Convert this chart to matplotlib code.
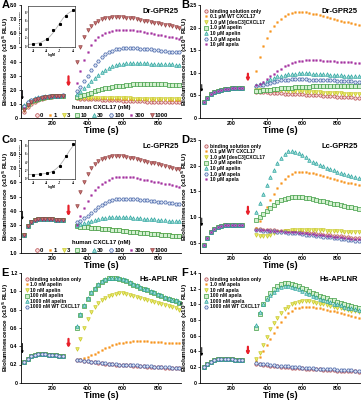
import matplotlib
matplotlib.use('Agg')
import matplotlib.pyplot as plt

plt.rcParams['font.family'] = ['Liberation Sans', 'DejaVu Sans']
plt.rcParams['font.weight'] = 'bold'
plt.rcParams['axes.labelweight'] = 'bold'

# time points (s): before and after the ligand addition
t_pre = [40, 60, 80, 100, 120, 140, 160, 180, 200, 220, 240, 260]
t_post = [340, 360, 380, 400, 420, 440, 460, 480, 500, 520, 540, 560, 580, 600, 620,
          640, 660, 680, 700, 720, 740, 760, 780, 800, 820, 840, 860, 880, 900, 920]

# ---------------- A : Dr-GPR25, human CXCL17 (nM)
a_labels = ['0', '1', '3', '10', '30', '100', '300', '1000']
a_pre_0 = [0.45, 0.75, 1.0, 1.15, 1.27, 1.36, 1.42, 1.47, 1.51, 1.54, 1.56, 1.57]
a_pre_1 = [0.55, 0.85, 1.07, 1.2, 1.3, 1.38, 1.44, 1.48, 1.52, 1.55, 1.57, 1.58]
a_pre_3 = [0.6, 0.9, 1.1, 1.23, 1.33, 1.4, 1.45, 1.49, 1.52, 1.55, 1.57, 1.58]
a_pre_10 = [0.75, 1.0, 1.18, 1.3, 1.38, 1.44, 1.48, 1.51, 1.54, 1.56, 1.58, 1.59]
a_pre_30 = [0.95, 1.15, 1.3, 1.4, 1.46, 1.5, 1.53, 1.55, 1.57, 1.58, 1.59, 1.6]
a_pre_100 = [0.85, 1.1, 1.27, 1.38, 1.45, 1.49, 1.52, 1.55, 1.57, 1.58, 1.59, 1.6]
a_pre_300 = [0.7, 0.95, 1.15, 1.28, 1.37, 1.43, 1.48, 1.51, 1.54, 1.56, 1.58, 1.59]
a_pre_1000 = [0.6, 0.9, 1.1, 1.24, 1.34, 1.41, 1.46, 1.5, 1.53, 1.56, 1.58, 1.59]
a_post_0 = [1.4, 1.38, 1.37, 1.35, 1.34, 1.32, 1.31, 1.3, 1.28, 1.27, 1.26, 1.25, 1.24, 1.23, 1.22,
            1.21, 1.2, 1.19, 1.18, 1.17, 1.16, 1.16, 1.15, 1.14, 1.13, 1.13, 1.12, 1.11, 1.11, 1.1]
a_post_1 = [1.45, 1.44, 1.43, 1.42, 1.42, 1.41, 1.4, 1.4, 1.39, 1.38, 1.38, 1.37, 1.37, 1.36, 1.36,
            1.35, 1.35, 1.34, 1.34, 1.33, 1.33, 1.32, 1.32, 1.32, 1.31, 1.31, 1.3, 1.3, 1.3, 1.29]
a_post_3 = [1.45, 1.45, 1.45, 1.44, 1.44, 1.43, 1.43, 1.42, 1.42, 1.41, 1.41, 1.4, 1.4, 1.4, 1.39,
            1.39, 1.38, 1.38, 1.38, 1.37, 1.37, 1.37, 1.36, 1.36, 1.36, 1.35, 1.35, 1.35, 1.34, 1.34]
a_post_10 = [1.5, 1.55, 1.6, 1.7, 1.8, 1.9, 2.0, 2.05, 2.1, 2.15, 2.2, 2.25, 2.3, 2.3, 2.35,
             2.35, 2.4, 2.4, 2.4, 2.4, 2.4, 2.4, 2.4, 2.4, 2.4, 2.4, 2.35, 2.35, 2.35, 2.35]
a_post_30 = [1.7, 1.9, 2.1, 2.35, 2.6, 2.85, 3.05, 3.25, 3.4, 3.55, 3.65, 3.75, 3.8, 3.85, 3.9,
             3.9, 3.9, 3.9, 3.9, 3.9, 3.9, 3.85, 3.85, 3.85, 3.85, 3.8, 3.8, 3.8, 3.75, 3.75]
a_post_100 = [1.9, 2.2, 2.6, 3.0, 3.4, 3.75, 4.05, 4.3, 4.5, 4.65, 4.75, 4.85, 4.9, 4.95, 4.95,
              4.95, 4.95, 4.95, 4.9, 4.9, 4.85, 4.85, 4.8, 4.8, 4.75, 4.75, 4.7, 4.7, 4.65, 4.65]
a_post_300 = [2.5, 3.3, 4.1, 4.7, 5.2, 5.5, 5.75, 5.9, 6.0, 6.1, 6.15, 6.2, 6.2, 6.2, 6.2,
              6.2, 6.2, 6.15, 6.15, 6.1, 6.05, 6.0, 5.95, 5.9, 5.85, 5.8, 5.75, 5.7, 5.65, 5.6]
a_post_1000 = [4.0, 5.0, 5.7, 6.2, 6.5, 6.75, 6.9, 7.0, 7.05, 7.1, 7.15, 7.15, 7.15, 7.15, 7.1,
               7.1, 7.05, 7.0, 6.95, 6.9, 6.85, 6.8, 6.75, 6.7, 6.65, 6.6, 6.55, 6.5, 6.45, 6.4]
# inset: dose response (log M)
a_dose_x = [-9.0, -8.52, -8.0, -7.52, -7.0, -6.52, -6.0]
a_dose_y = [0.04, 0.06, 0.16, 0.37, 0.52, 0.72, 0.84]
a_fit_x = [-9.4, -9.0, -8.5, -8.0, -7.75, -7.5, -7.25, -7.0, -6.75, -6.5, -6.25, -6.0, -5.9]
a_fit_y = [0.04, 0.05, 0.08, 0.16, 0.23, 0.32, 0.43, 0.55, 0.66, 0.74, 0.8, 0.84, 0.85]

# ---------------- B : Dr-GPR25, other ligands
b_labels = ['binding solution only', '0.1 µM WT CXCL17', '1.0 µM [desC3]CXCL17', '1.0 µM apelin',
            '10 µM apelin', '1.0 µM apela', '10 µM apela']
b_pre = [0.35, 0.45, 0.52, 0.57, 0.6, 0.62, 0.64, 0.65, 0.66, 0.66, 0.67, 0.67]
b_post_buffer = [0.58, 0.58, 0.57, 0.57, 0.56, 0.56, 0.55, 0.55, 0.54, 0.54, 0.53, 0.53, 0.52, 0.52, 0.51,
                 0.51, 0.5, 0.5, 0.5, 0.49, 0.49, 0.48, 0.48, 0.47, 0.47, 0.47, 0.46, 0.46, 0.45, 0.45]
b_post_cxcl17 = [1.05, 1.35, 1.6, 1.78, 1.92, 2.03, 2.12, 2.2, 2.25, 2.29, 2.32, 2.34, 2.35, 2.35, 2.34,
                 2.33, 2.31, 2.29, 2.27, 2.25, 2.23, 2.21, 2.19, 2.17, 2.15, 2.13, 2.12, 2.1, 2.08, 2.06]
b_post_desc3 = [0.62, 0.62, 0.62, 0.62, 0.62, 0.62, 0.61, 0.61, 0.61, 0.6, 0.6, 0.6, 0.59, 0.59, 0.58,
                0.58, 0.57, 0.57, 0.57, 0.56, 0.56, 0.56, 0.55, 0.55, 0.55, 0.54, 0.54, 0.54, 0.53, 0.53]
b_post_apelin1 = [0.6, 0.6, 0.61, 0.62, 0.63, 0.64, 0.65, 0.66, 0.66, 0.67, 0.67, 0.68, 0.68, 0.69, 0.69,
                  0.69, 0.7, 0.7, 0.7, 0.7, 0.7, 0.7, 0.71, 0.71, 0.71, 0.71, 0.71, 0.71, 0.71, 0.71]
b_post_apelin10 = [0.72, 0.75, 0.78, 0.82, 0.86, 0.89, 0.92, 0.94, 0.96, 0.97, 0.98, 0.98, 0.99, 0.99, 0.99,
                   0.99, 0.98, 0.98, 0.98, 0.97, 0.97, 0.96, 0.96, 0.95, 0.95, 0.94, 0.94, 0.93, 0.93, 0.92]
b_post_apela1 = [0.7, 0.72, 0.74, 0.76, 0.78, 0.8, 0.82, 0.83, 0.84, 0.85, 0.86, 0.86, 0.86, 0.86, 0.86,
                 0.85, 0.85, 0.85, 0.84, 0.84, 0.84, 0.83, 0.83, 0.82, 0.82, 0.82, 0.81, 0.81, 0.8, 0.8]
b_post_apela10 = [0.72, 0.76, 0.8, 0.86, 0.92, 0.98, 1.04, 1.09, 1.14, 1.18, 1.21, 1.24, 1.26, 1.27, 1.28,
                  1.28, 1.28, 1.28, 1.28, 1.27, 1.27, 1.26, 1.26, 1.25, 1.25, 1.24, 1.24, 1.23, 1.22, 1.22]

# ---------------- C : Lc-GPR25, human CXCL17 (nM)
c_labels = a_labels
c_pre = [2.3, 2.9, 3.2, 3.35, 3.4, 3.42, 3.42, 3.4, 3.38, 3.37, 3.36, 3.35]
c_post_low = [2.9, 2.87, 2.85, 2.82, 2.8, 2.77, 2.75, 2.72, 2.7, 2.67, 2.65, 2.62, 2.6, 2.57, 2.55,
              2.52, 2.5, 2.47, 2.45, 2.42, 2.4, 2.37, 2.35, 2.32, 2.3, 2.27, 2.25, 2.22, 2.2, 2.18]
c_post_30 = [3.0, 3.05, 3.1, 3.18, 3.26, 3.33, 3.4, 3.45, 3.5, 3.53, 3.55, 3.56, 3.56, 3.55, 3.54,
             3.52, 3.5, 3.48, 3.46, 3.44, 3.42, 3.4, 3.38, 3.36, 3.34, 3.32, 3.3, 3.28, 3.26, 3.24]
c_post_100 = [3.2, 3.3, 3.45, 3.65, 3.85, 4.05, 4.25, 4.4, 4.55, 4.65, 4.75, 4.8, 4.83, 4.85, 4.85,
              4.85, 4.83, 4.8, 4.78, 4.75, 4.72, 4.7, 4.67, 4.64, 4.61, 4.58, 4.55, 4.52, 4.5, 4.47]
c_post_300 = [3.0, 3.6, 4.2, 4.7, 5.1, 5.45, 5.7, 5.9, 6.05, 6.2, 6.3, 6.35, 6.4, 6.4, 6.4,
              6.38, 6.35, 6.3, 6.25, 6.2, 6.15, 6.1, 6.05, 6.0, 5.95, 5.9, 5.85, 5.8, 5.75, 5.7]
c_post_1000 = [4.3, 5.3, 6.0, 6.6, 7.0, 7.3, 7.5, 7.65, 7.75, 7.82, 7.86, 7.87, 7.86, 7.84, 7.8,
               7.75, 7.7, 7.64, 7.58, 7.52, 7.46, 7.4, 7.34, 7.28, 7.22, 7.16, 7.1, 7.04, 6.98, 6.92]
c_dose_x = [-9.0, -8.52, -8.0, -7.52, -7.0, -6.52, -6.0]
c_dose_y = [0.09, 0.1, 0.12, 0.16, 0.31, 0.56, 0.85]
c_fit_x = [-9.4, -9.0, -8.5, -8.0, -7.75, -7.5, -7.25, -7.0, -6.75, -6.5, -6.25, -6.0, -5.9]
c_fit_y = [0.09, 0.09, 0.1, 0.12, 0.14, 0.18, 0.24, 0.32, 0.43, 0.56, 0.69, 0.8, 0.84]

# ---------------- D : Lc-GPR25, other ligands
d_labels = b_labels
d_pre = [0.45, 0.6, 0.7, 0.77, 0.81, 0.83, 0.84, 0.85, 0.85, 0.84, 0.84, 0.84]
d_post_buffer = [0.76, 0.76, 0.75, 0.75, 0.74, 0.74, 0.73, 0.73, 0.72, 0.72, 0.71, 0.71, 0.7, 0.7, 0.69,
                 0.69, 0.68, 0.67, 0.67, 0.66, 0.65, 0.65, 0.64, 0.63, 0.63, 0.62, 0.61, 0.6, 0.6, 0.59]
d_post_cxcl17 = [0.78, 0.92, 1.06, 1.2, 1.33, 1.45, 1.56, 1.66, 1.74, 1.8, 1.84, 1.87, 1.88, 1.88, 1.87,
                 1.86, 1.85, 1.83, 1.81, 1.79, 1.77, 1.76, 1.74, 1.72, 1.7, 1.69, 1.67, 1.66, 1.64, 1.62]
d_post_desc3 = [0.66, 0.64, 0.63, 0.64, 0.66, 0.68, 0.7, 0.71, 0.72, 0.73, 0.74, 0.75, 0.75, 0.75, 0.75,
                0.75, 0.75, 0.74, 0.74, 0.74, 0.73, 0.73, 0.72, 0.72, 0.72, 0.71, 0.71, 0.71, 0.7, 0.7]
d_post_apelin1 = [0.95, 1.0, 1.06, 1.12, 1.18, 1.24, 1.29, 1.33, 1.36, 1.38, 1.4, 1.4, 1.4, 1.39, 1.38,
                  1.37, 1.35, 1.34, 1.32, 1.31, 1.29, 1.28, 1.26, 1.25, 1.23, 1.22, 1.2, 1.19, 1.17, 1.16]
d_post_apelin10 = [1.1, 1.28, 1.45, 1.62, 1.78, 1.92, 2.05, 2.15, 2.23, 2.28, 2.29, 2.27, 2.24, 2.2, 2.16,
                   2.12, 2.08, 2.05, 2.02, 1.99, 1.96, 1.93, 1.91, 1.88, 1.86, 1.84, 1.82, 1.8, 1.78, 1.76]
d_post_apela1 = [0.74, 0.74, 0.73, 0.73, 0.72, 0.72, 0.71, 0.71, 0.7, 0.69, 0.69, 0.68, 0.68, 0.67, 0.66,
                 0.66, 0.65, 0.64, 0.63, 0.62, 0.62, 0.61, 0.6, 0.59, 0.58, 0.57, 0.56, 0.55, 0.54, 0.53]
d_post_apela10 = [0.75, 0.75, 0.74, 0.74, 0.73, 0.73, 0.72, 0.72, 0.71, 0.71, 0.7, 0.7, 0.69, 0.69, 0.68,
                  0.67, 0.67, 0.66, 0.65, 0.65, 0.64, 0.63, 0.62, 0.62, 0.61, 0.6, 0.59, 0.58, 0.58, 0.57]

# ---------------- E : Hs-APLNR, apelin
e_labels = ['binding solution only', '1.0 nM apelin', '10 nM apelin', '100 nM apelin',
            '1000 nM apelin', '1000 nM WT CXCL17']
e_pre = [0.23, 0.26, 0.29, 0.3, 0.31, 0.31, 0.31, 0.3, 0.3, 0.3, 0.29, 0.29]
e_post_buffer = [0.25, 0.245, 0.24, 0.235, 0.23, 0.225, 0.22, 0.215, 0.21, 0.21, 0.205, 0.2, 0.2, 0.195, 0.19,
                 0.19, 0.185, 0.185, 0.18, 0.18, 0.175, 0.175, 0.17, 0.17, 0.17, 0.165, 0.165, 0.16, 0.16, 0.16]
e_post_1 = [0.25, 0.26, 0.27, 0.28, 0.3, 0.32, 0.34, 0.36, 0.38, 0.39, 0.41, 0.42, 0.43, 0.44, 0.45,
            0.45, 0.46, 0.46, 0.46, 0.46, 0.46, 0.45, 0.45, 0.45, 0.45, 0.44, 0.44, 0.44, 0.44, 0.43]
e_post_10 = [0.37, 0.48, 0.6, 0.7, 0.77, 0.83, 0.87, 0.9, 0.93, 0.95, 0.96, 0.97, 0.98, 0.98, 0.97,
             0.96, 0.95, 0.94, 0.93, 0.92, 0.9, 0.89, 0.88, 0.87, 0.86, 0.85, 0.84, 0.83, 0.82, 0.8]
e_post_100 = [0.6, 0.74, 0.84, 0.92, 0.98, 1.03, 1.07, 1.1, 1.12, 1.14, 1.14, 1.14, 1.13, 1.12, 1.11,
              1.09, 1.07, 1.06, 1.04, 1.02, 1.01, 0.99, 0.98, 0.96, 0.95, 0.93, 0.92, 0.9, 0.89, 0.87]
e_post_1000 = [0.62, 0.75, 0.85, 0.93, 0.99, 1.04, 1.08, 1.11, 1.13, 1.15, 1.15, 1.15, 1.14, 1.13, 1.12,
               1.1, 1.08, 1.07, 1.05, 1.03, 1.02, 1.0, 0.99, 0.97, 0.96, 0.94, 0.93, 0.91, 0.9, 0.88]
e_post_cxcl17 = [0.25, 0.245, 0.24, 0.235, 0.23, 0.23, 0.225, 0.22, 0.215, 0.21, 0.21, 0.205, 0.2, 0.2, 0.195,
                 0.195, 0.19, 0.19, 0.185, 0.185, 0.18, 0.18, 0.175, 0.175, 0.175, 0.17, 0.17, 0.165, 0.165, 0.165]

# ---------------- F : Hs-APLNR, apela
f_labels = ['binding solution only', '1.0 nM apela', '10 nM apela', '100 nM apela',
            '1000 nM apela', '1000 nM WT CXCL17']
f_pre = [0.2, 0.24, 0.27, 0.29, 0.3, 0.305, 0.305, 0.3, 0.3, 0.295, 0.29, 0.29]
f_post_buffer = [0.24, 0.235, 0.23, 0.225, 0.22, 0.215, 0.21, 0.205, 0.2, 0.2, 0.195, 0.19, 0.19, 0.185, 0.18,
                 0.18, 0.175, 0.17, 0.17, 0.165, 0.165, 0.16, 0.16, 0.155, 0.155, 0.15, 0.15, 0.15, 0.145, 0.14]
f_post_1 = [0.28, 0.33, 0.4, 0.48, 0.56, 0.64, 0.71, 0.78, 0.84, 0.89, 0.92, 0.95, 0.96, 0.97, 0.97,
            0.97, 0.97, 0.96, 0.95, 0.94, 0.93, 0.92, 0.91, 0.9, 0.89, 0.88, 0.87, 0.85, 0.84, 0.83]
f_post_10 = [0.3, 0.38, 0.48, 0.58, 0.68, 0.76, 0.83, 0.89, 0.94, 0.97, 1.0, 1.02, 1.03, 1.04, 1.04,
             1.04, 1.03, 1.02, 1.01, 1.0, 0.99, 0.98, 0.97, 0.96, 0.95, 0.94, 0.93, 0.92, 0.91, 0.9]
f_post_100 = [0.7, 0.88, 1.0, 1.08, 1.14, 1.19, 1.23, 1.26, 1.27, 1.27, 1.26, 1.25, 1.23, 1.21, 1.19,
              1.17, 1.15, 1.13, 1.11, 1.09, 1.08, 1.06, 1.05, 1.03, 1.02, 1.01, 0.99, 0.98, 0.97, 0.96]
f_post_1000 = [0.74, 0.9, 1.0, 1.07, 1.12, 1.16, 1.2, 1.22, 1.23, 1.23, 1.22, 1.21, 1.19, 1.17, 1.15,
               1.13, 1.11, 1.09, 1.07, 1.06, 1.04, 1.03, 1.01, 1.0, 0.99, 0.97, 0.96, 0.95, 0.94, 0.93]
f_post_cxcl17 = [0.25, 0.245, 0.24, 0.235, 0.23, 0.225, 0.22, 0.215, 0.21, 0.21, 0.205, 0.2, 0.2, 0.195, 0.19,
                 0.19, 0.185, 0.18, 0.18, 0.175, 0.175, 0.17, 0.17, 0.165, 0.165, 0.16, 0.16, 0.16, 0.155, 0.15]

# marker styles, one per series slot
ST = [
    dict(marker='o', mfc='#f7dcdc', mec='#b5474a', ms=2.4, mew=0.5),   # buffer / 0
    dict(marker='s', mfc='#f7941d', mec='#f7941d', ms=1.2, mew=0.3),   # 1
    dict(marker='v', mfc='#eaea6a', mec='#c4c420', ms=2.6, mew=0.45),  # 3
    dict(marker='s', mfc='#d4f0d0', mec='#3d9c43', ms=2.3, mew=0.5),   # 10
    dict(marker='^', mfc='#9fd9d4', mec='#22a19b', ms=2.6, mew=0.45),  # 30
    dict(marker='H', mfc='#dfe7f6', mec='#4462a6', ms=2.6, mew=0.5),   # 100
    dict(marker='s', mfc='#a4309f', mec='#a4309f', ms=1.2, mew=0.3),   # 300
    dict(marker='v', mfc='#c77272', mec='#8f3d3d', ms=2.6, mew=0.45),  # 1000
]
ST_APL = [ST[0], ST[1], ST[2], ST[3], ST[4], ST[5]]

fig = plt.figure(figsize=(3.61, 4.0), dpi=100)


def setup(ax, ylim, yticks, ylabels, title):
    ax.set_xlim(22, 930)
    ax.set_ylim(*ylim)
    ax.set_xticks([200, 400, 600, 800])
    ax.set_yticks(yticks)
    ax.set_yticklabels(ylabels)
    ax.spines['top'].set_visible(False)
    ax.spines['right'].set_visible(False)
    for s in ['left', 'bottom']:
        ax.spines[s].set_linewidth(0.6)
    ax.tick_params(labelsize=3.8, length=1.6, width=0.5, pad=0.8)
    for lab in ax.get_xticklabels() + ax.get_yticklabels():
        lab.set_fontweight('bold')
    ax.set_xlabel('Time (s)', fontsize=6.5, labelpad=0.1)
    ax.set_ylabel('Bioluminescence (x10$^5$ RLU)', fontsize=4.6)
    ax.yaxis.set_label_coords(-0.064, 0.5)
    ax.text(0.985, 0.97, title, transform=ax.transAxes, ha='right', va='top', fontsize=5.5, fontweight='bold')


def arrows(ax, black, red):
    ax.annotate('', xy=(30, black[1]), xytext=(30, black[0]),
                arrowprops=dict(arrowstyle='-|>', color='black', lw=0.7, mutation_scale=3,
                                shrinkA=0, shrinkB=0))
    ax.annotate('', xy=(292, red[1]), xytext=(292, red[0]),
                arrowprops=dict(arrowstyle='-|>', color='#e8202a', lw=1.6, mutation_scale=3.5,
                                shrinkA=0, shrinkB=0))


def series(ax, pre, post, style, label):
    ax.plot(t_pre, pre, ls='none', **style)
    ax.plot(t_post, post, ls='none', label=label, **style)


def inset(rect, dx, dy, fx, fy):
    ins = fig.add_axes(rect)
    ins.plot(fx, fy, color='#b0b0b0', lw=0.6)
    ins.plot(dx, dy, ls='none', marker='s', ms=1.2, color='black')
    ins.set_xlim(-9.4, -5.85)
    ins.set_ylim(-0.02, 0.95)
    ins.set_xticks([-9, -8, -7, -6])
    ins.set_yticks([0.0, 0.2, 0.4, 0.6, 0.8])
    ins.set_yticklabels(['0', '2', '4', '6', '8'])
    ins.tick_params(labelsize=2.0, length=0.8, width=0.3, pad=0.4)
    for s in ins.spines.values():
        s.set_linewidth(0.4)
    ins.set_xlabel('logM', fontsize=2.4, labelpad=0.3)
    ins.set_ylabel('Bioluminescence (x10$^5$ RLU)', fontsize=1.7, labelpad=0.4)


def dose_legend(ax):
    leg = ax.legend(loc='lower center', bbox_to_anchor=(0.5, -0.03), ncol=8, fontsize=4.2, frameon=False,
                    title='human CXCL17 (nM)', title_fontsize=4.3, handletextpad=0.05, columnspacing=0.7,
                    handlelength=1.0, borderaxespad=0.2, markerscale=1.1)
    leg.get_title().set_fontweight('bold')


def list_legend(ax):
    ax.legend(loc='upper left', fontsize=3.6, frameon=False, handletextpad=0.2, labelspacing=0.12,
              handlelength=1.0, borderaxespad=0.3, markerscale=1.0)


W = 0.443
H = 0.2825
LX = 0.058
RX = 0.555

# A
ax = fig.add_axes([LX, 0.705, W, H])
a_pre = [a_pre_0, a_pre_1, a_pre_3, a_pre_10, a_pre_30, a_pre_100, a_pre_300, a_pre_1000]
a_post = [a_post_0, a_post_1, a_post_3, a_post_10, a_post_30, a_post_100, a_post_300, a_post_1000]
for i in range(8):
    series(ax, a_pre[i], a_post[i], ST[i], a_labels[i])
setup(ax, (0, 8.0), [0, 1, 2, 3, 4, 5, 6, 7, 8],
      ['0', '1.0', '2.0', '3.0', '4.0', '5.0', '6.0', '7.0', '8.0'], 'Dr-GPR25')
arrows(ax, (1.95, 1.3), (2.95, 2.2))
dose_legend(ax)
inset([0.078, 0.8825, 0.13, 0.103], a_dose_x, a_dose_y, a_fit_x, a_fit_y)

# B
ax = fig.add_axes([RX, 0.705, W, H])
b_post = [b_post_buffer, b_post_cxcl17, b_post_desc3, b_post_apelin1, b_post_apelin10, b_post_apela1, b_post_apela10]
b_style = [ST[0], ST[1], ST[2], ST[3], ST[4], ST[5], ST[6]]
for i in range(7):
    series(ax, b_pre, b_post[i], b_style[i], b_labels[i])
setup(ax, (0, 2.5), [0, 0.5, 1.0, 1.5, 2.0, 2.5], ['0', '0.5', '1.0', '1.5', '2.0', '2.5'], 'Dr-GPR25')
arrows(ax, (0.74, 0.58), (0.98, 0.8))
list_legend(ax)

# C
ax = fig.add_axes([LX, 0.3675, W, H])
c_post = [c_post_low, c_post_low, c_post_low, c_post_low, c_post_30, c_post_100, c_post_300, c_post_1000]
for i in range(8):
    series(ax, c_pre, c_post[i], ST[i], c_labels[i])
setup(ax, (1.0, 9.0), [1, 2, 3, 4, 5, 6, 7, 8, 9],
      ['1.0', '2.0', '3.0', '4.0', '5.0', '6.0', '7.0', '8.0', '9.0'], 'Lc-GPR25')
arrows(ax, (3.95, 3.35), (4.35, 3.6))
dose_legend(ax)
inset([0.078, 0.5525, 0.13, 0.098], c_dose_x, c_dose_y, c_fit_x, c_fit_y)

# D
ax = fig.add_axes([RX, 0.3675, W, H])
d_post = [d_post_buffer, d_post_cxcl17, d_post_desc3, d_post_apelin1, d_post_apelin10, d_post_apela1, d_post_apela10]
for i in range(7):
    series(ax, d_pre, d_post[i], b_style[i], d_labels[i])
setup(ax, (0.3, 2.5), [0.5, 1.0, 1.5, 2.0, 2.5], ['0.5', '1.0', '1.5', '2.0', '2.5'], 'Lc-GPR25')
arrows(ax, (0.98, 0.82), (1.2, 1.02))
list_legend(ax)

EB = 0.043
EH = 0.2745

# E
ax = fig.add_axes([LX, EB, W, EH])
e_post = [e_post_buffer, e_post_1, e_post_10, e_post_100, e_post_1000, e_post_cxcl17]
for i in range(6):
    series(ax, e_pre, e_post[i], ST_APL[i], e_labels[i])
setup(ax, (0, 1.2), [0, 0.2, 0.4, 0.6, 0.8, 1.0, 1.2], ['0', '0.2', '0.4', '0.6', '0.8', '1.0', '1.2'],
      'Hs-APLNR')
arrows(ax, (0.43, 0.32), (0.48, 0.38))
list_legend(ax)

# F
ax = fig.add_axes([RX, EB, W, EH])
f_post = [f_post_buffer, f_post_1, f_post_10, f_post_100, f_post_1000, f_post_cxcl17]
for i in range(6):
    series(ax, f_pre, f_post[i], ST_APL[i], f_labels[i])
setup(ax, (0, 1.4), [0, 0.2, 0.4, 0.6, 0.8, 1.0, 1.2, 1.4],
      ['0', '0.2', '0.4', '0.6', '0.8', '1.0', '1.2', '1.4'], 'Hs-APLNR')
arrows(ax, (0.45, 0.34), (0.46, 0.35))
list_legend(ax)

# panel letters
for letter, x, y in [('A', 0.004, 0.999), ('B', 0.503, 0.999), ('C', 0.004, 0.663),
                     ('D', 0.503, 0.663), ('E', 0.004, 0.33), ('F', 0.503, 0.33)]:
    fig.text(x, y, letter, ha='left', va='top', fontsize=8, fontweight='bold')

fig.savefig('out.png', dpi=100)
